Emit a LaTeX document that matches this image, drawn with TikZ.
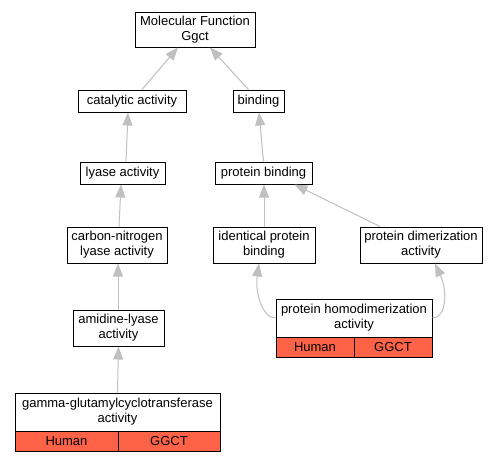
\documentclass[tikz,border=0pt]{standalone}
\usepackage{fontspec}
\setmainfont{Liberation Sans}
\usetikzlibrary{arrows.meta,calc}
\definecolor{edgegray}{RGB}{192,192,192}
\definecolor{tomatored}{RGB}{255,99,71}
\begin{document}
\begin{tikzpicture}[x=1pt,y=-1pt,
  box/.style={draw, line width=1pt, fill=white, inner sep=0pt, align=center,
    font=\fontsize{13}{15}\selectfont},
  redcell/.style={box, fill=tomatored},
  isa/.style={draw=edgegray, line width=1pt, -{Triangle[length=13pt,width=10pt,fill=edgegray,color=edgegray]}}]
\useasboundingbox (0,0) rectangle (499,461);
\fill[white] (0,0) rectangle (499,461);
% nodes
\node[box, minimum width=120pt, minimum height=35pt] (mf) at (195,29.5) {Molecular Function\\Ggct};
\node[box, minimum width=108pt, minimum height=22pt] (cat) at (132,101) {catalytic activity};
\node[box, minimum width=51pt, minimum height=22pt] (bind) at (258.5,101) {binding};
\node[box, minimum width=85pt, minimum height=22pt] (lya) at (122.5,173) {lyase activity};
\node[box, minimum width=97pt, minimum height=22pt] (pb) at (263.5,173) {protein binding};
\node[box, minimum width=100pt, minimum height=36pt] (cnl) at (117,245) {carbon-nitrogen\\lyase activity};
\node[box, minimum width=102pt, minimum height=36pt] (ipb) at (264,245) {identical protein\\binding};
\node[box, minimum width=122pt, minimum height=36pt] (pda) at (421,245) {protein dimerization\\activity};
\node[box, minimum width=91pt, minimum height=36pt] (aml) at (118.5,328) {amidine-lyase\\activity};
\node[box, minimum width=156pt, minimum height=38pt] (hd) at (354,318) {protein homodimerization\\activity};
\node[redcell, minimum width=78pt, minimum height=20pt] (hdh) at (315,347) {Human};
\node[redcell, minimum width=78pt, minimum height=20pt] (hdg) at (393,347) {GGCT};
\node[box, minimum width=205pt, minimum height=38pt] (gg) at (117.5,412) {gamma-glutamylcyclotransferase\\activity};
\node[redcell, minimum width=103pt, minimum height=20pt] (ggh) at (66.5,441) {Human};
\node[redcell, minimum width=102pt, minimum height=20pt] (ggg) at (169,441) {GGCT};
% edges
\draw[isa] ($(cat.north)+(10,0)$) -- ($(mf.south)+(-17,0)$);
\draw[isa] ($(bind.north)+(-10,0)$) -- ($(mf.south)+(15,0)$);
\draw[isa] ($(lya.north)+(3.5,0)$) -- ($(cat.south)+(-4,0)$);
\draw[isa] (pb.north) -- ($(bind.south)+(0.5,0)$);
\draw[isa] ($(cnl.north)+(2,0)$) -- ($(lya.south)+(-1.5,0)$);
\draw[isa] (ipb.north) -- ($(pb.south)+(0.5,0)$);
\draw[isa] ($(pda.north)+(-41,0)$) -- ($(pb.south)+(31,0)$);
\draw[isa] ($(aml.north)+(-0.5,0)$) -- ($(cnl.south)+(1,0)$);
\draw[isa] (gg.north) -- (aml.south);
\draw[isa] (hd.west) .. controls (262,318) and (255,292) .. ($(ipb.south)+(-5,0)$);
\draw[isa] (hd.east) .. controls (446,318) and (448,292) .. ($(pda.south)+(14,0)$);
\end{tikzpicture}
\end{document}
